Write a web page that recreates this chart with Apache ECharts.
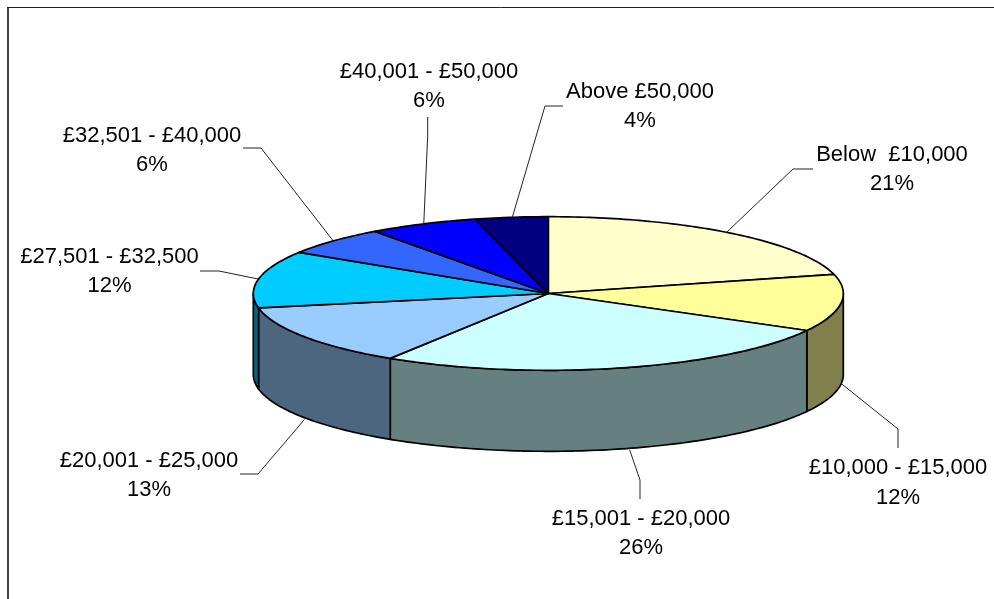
<!DOCTYPE html>
<html>
<head>
<meta charset="utf-8">
<title>Income bands</title>
<script src="https://cdn.jsdelivr.net/npm/echarts@6/dist/echarts.min.js"></script>
<style>
  html, body { margin: 0; padding: 0; background: #fff; }
  #chart { width: 994px; height: 599px; }
</style>
</head>
<body>
<div id="chart"></div>
<script>
// Income bands and their share of the total, clockwise from twelve o'clock.
const bands = [
  'Below  £10,000', '£10,000 - £15,000', '£15,001 - £20,000', '£20,001 - £25,000',
  '£27,501 - £32,500', '£32,501 - £40,000', '£40,001 - £50,000', 'Above £50,000'
];
const shares = [21, 12, 26, 13, 12, 6, 6, 4];

// Slice colours: lid, and the darker shade used on the outer wall.
const lidColors = ['#FFFFCC', '#FFFF99', '#CCFFFF', '#99CCFF', '#00CCFF', '#3366FF', '#0000FF', '#000080'];
const wallColors = ['#80806A', '#80804D', '#668080', '#4D6680', '#006680', '#1A3380', '#000080', '#000040'];

// Disc geometry.
const disc = { cx: 548.3, cy: 293.5, rx: 295, ry: 76.8, depth: 81 };

// Label centres and the elbow of each leader line; the tip comes from the slice midpoint.
const labelCentres = [[892, 169.5], [898, 483], [641, 533.5], [149, 475.5], [109.5, 271.5], [152, 150.5], [429, 86.5], [640, 106.5]];
const leaderStarts = [[813, 169], [898, 448], [640, 499], [240, 474], [200, 271], [243, 148], [427.7, 117], [563, 106]];
const leaderElbows = [[793, 169], [898, 429], [640, 480], [258, 474], [219, 271], [261, 148], [427.7, 136], [545, 106]];
const tipNudges = [[-3, 0], [1, 0], [8, 1], [0, 2], [0, 0], [0, 0], [1, 1], [1, 0]];

const total = shares.reduce((a, b) => a + b, 0);
const sliceStart = i => shares.slice(0, i).reduce((a, b) => a + b, 0) / total * 360;
const sliceEnd = i => sliceStart(i) + shares[i] / total * 360;

// Point on the rim for a clockwise angle measured from the top of the disc.
function rim(deg, drop) {
  const t = deg * Math.PI / 180;
  return [disc.cx + disc.rx * Math.sin(t), disc.cy - disc.ry * Math.cos(t) + (drop || 0)];
}
function arc(from, to, drop) {
  const pts = [];
  const n = Math.max(2, Math.ceil(Math.abs(to - from)));
  for (let k = 0; k <= n; k++) pts.push(rim(from + (to - from) * k / n, drop));
  return pts;
}

const edge = { stroke: '#000', lineWidth: 1.7, lineJoin: 'round' };

// Outer wall: only the part of a slice on the front half of the disc shows.
function renderWall(params, api) {
  const i = api.value(0);
  const a = Math.max(sliceStart(i), 90);
  const b = Math.min(sliceEnd(i), 270);
  if (b <= a) return { type: 'group', children: [] };
  const points = arc(a, b, 0).concat(arc(b, a, disc.depth));
  return {
    type: 'polygon',
    shape: { points },
    style: Object.assign({ fill: wallColors[i] }, edge)
  };
}

// Lid wedge, leader line and two-line label of one slice.
function renderLid(params, api) {
  const i = api.value(0);
  const a = sliceStart(i);
  const b = sliceEnd(i);
  const mid = (a + b) / 2;
  const tip = rim(mid, mid > 90 && mid < 270 ? disc.depth : 0);
  return {
    type: 'group',
    children: [
      {
        type: 'polygon',
        shape: { points: [[disc.cx, disc.cy]].concat(arc(a, b, 0)) },
        style: Object.assign({ fill: lidColors[i] }, edge)
      },
      {
        type: 'polyline',
        shape: { points: [leaderStarts[i], leaderElbows[i], [tip[0] + tipNudges[i][0], tip[1] + tipNudges[i][1]]] },
        style: { fill: 'none', stroke: '#222', lineWidth: 1 }
      },
      {
        type: 'text',
        style: {
          x: labelCentres[i][0],
          y: labelCentres[i][1],
          text: bands[i] + '\n' + api.value(1) + '%',
          font: '22px "Liberation Sans", Arial, sans-serif',
          lineHeight: 29.5,
          fill: '#000',
          align: 'center',
          verticalAlign: 'middle'
        }
      }
    ]
  };
}

const sliceData = shares.map((v, i) => [i, v]);

const chart = echarts.init(document.getElementById('chart'), null, { renderer: 'canvas' });
chart.setOption({
  backgroundColor: '#fff',
  animation: false,
  graphic: [
    { type: 'line', shape: { x1: 8, y1: 7, x2: 8, y2: 599 }, style: { stroke: '#444', lineWidth: 2 }, silent: true },
    { type: 'line', shape: { x1: 7, y1: 7.5, x2: 994, y2: 7.5 }, style: { stroke: '#222', lineWidth: 1 }, silent: true }
  ],
  series: [
    { type: 'custom', coordinateSystem: 'none', renderItem: renderWall, data: sliceData, silent: true, z: 2 },
    { type: 'custom', coordinateSystem: 'none', renderItem: renderLid, data: sliceData, silent: true, z: 3 }
  ]
});
</script>
</body>
</html>
